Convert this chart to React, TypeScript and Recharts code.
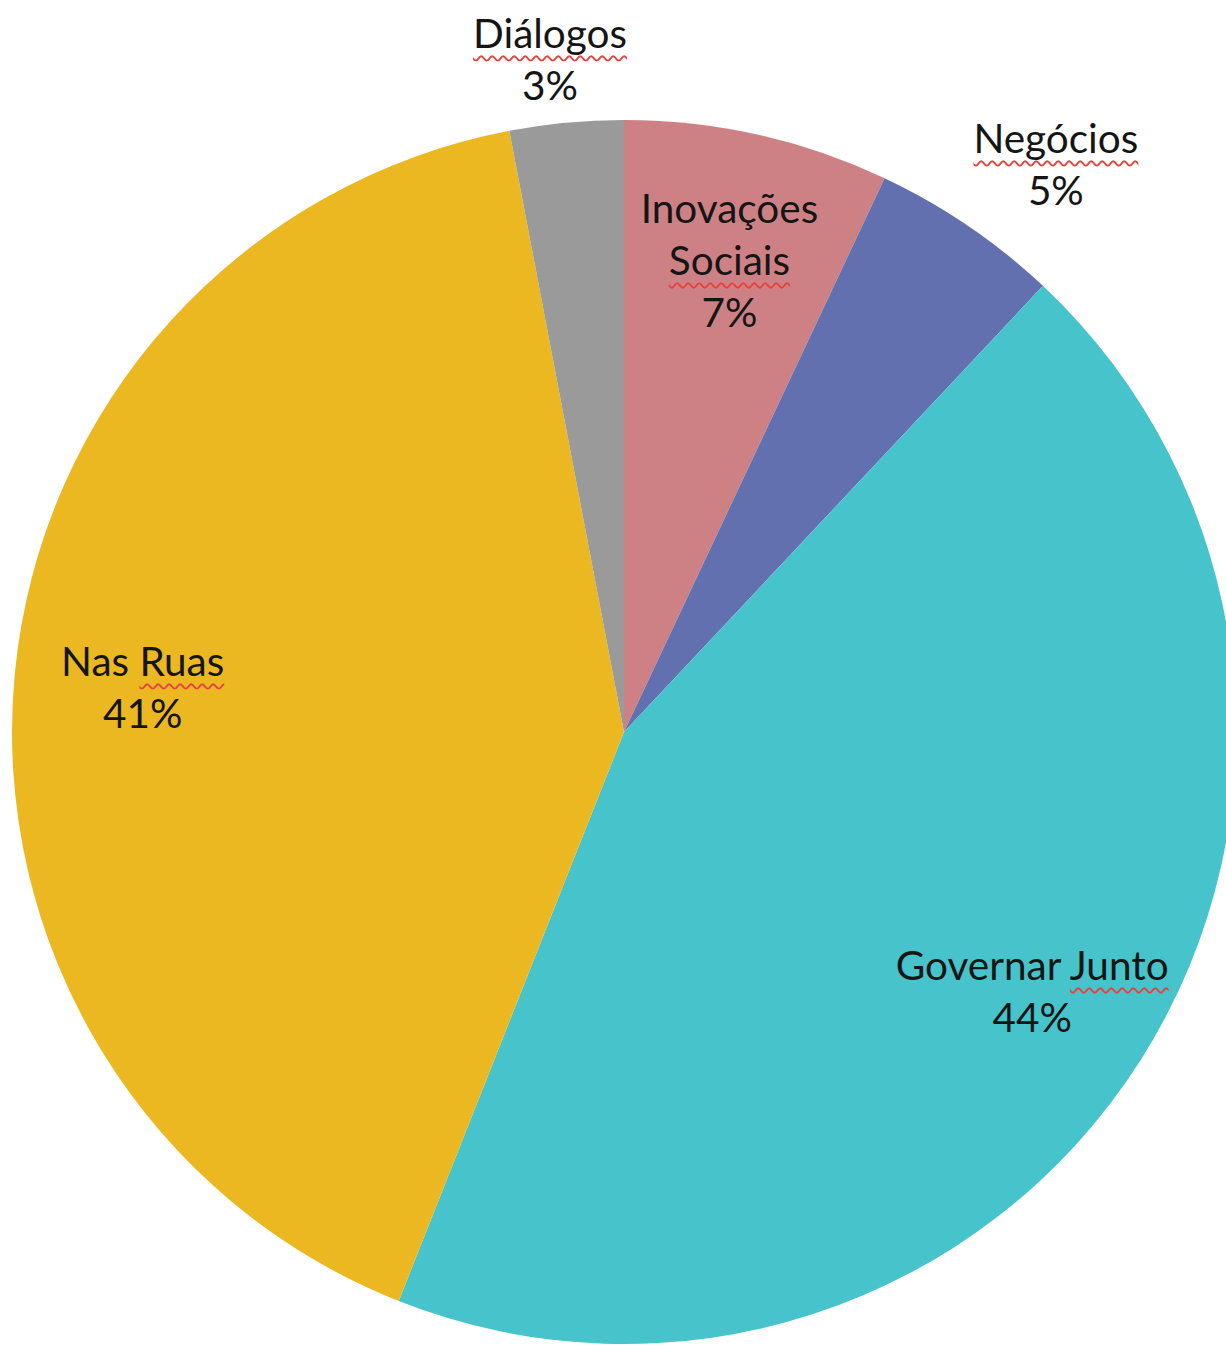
import React from "react";
import { PieChart, Pie, Cell } from "recharts";

const categories = ["Inovações Sociais", "Negócios", "Governar Junto", "Nas Ruas", "Diálogos"];
const values = [7, 5, 44, 41, 3];
const colors = ["#CE8185", "#6370AF", "#47C3CB", "#EBB822", "#9A9A9A"];
// words marked by the spell checker in the original
const flagged = ["Diálogos", "Negócios", "Sociais", "Ruas", "Junto"];

const data = categories.map((name, i) => ({ name, value: values[i] }));
const RAD = Math.PI / 180;
const FONT = "Lato, 'Open Sans', sans-serif";
const FS = 40.5;
const LH = 52;

function wrapName(name: string) {
  return name === "Inovações Sociais" ? name.split(" ") : [name];
}

function renderLabel(props: any) {
  const { cx, cy, midAngle, outerRadius, percent, name } = props;
  const lines = [...wrapName(name), `${Math.round(percent * 100)}%`];
  const h = lines.length * LH;
  const textW = Math.max(...lines.map((l) => l.length)) * FS * 0.5;
  const cos = Math.cos(-midAngle * RAD);
  const sin = Math.sin(-midAngle * RAD);
  let x: number;
  let y: number;
  if (percent < 0.06) {
    // small slices: box sits just outside the rim
    const r = outerRadius * 1.02;
    const clamp = (v: number) => Math.max(-1, Math.min(1, v));
    x = cx + r * cos + (textW / 2) * clamp(cos * 2);
    y = cy + r * sin + (h / 2) * clamp(sin * 2);
  } else {
    const r = outerRadius * 0.79;
    x = cx + r * cos;
    y = cy + r * sin;
  }
  const w = 360;
  return (
    <foreignObject x={x - w / 2} y={y - h / 2} width={w} height={h + 10} style={{ overflow: "visible" }}>
      <div
        style={{
          fontFamily: FONT,
          fontSize: FS,
          lineHeight: `${LH}px`,
          textAlign: "center",
          color: "#151515",
          whiteSpace: "nowrap",
        }}
      >
        {lines.map((line, i) => {
          const words = line.split(" ");
          return (
            <div key={i}>
              {words.map((wd, j) => (
                <span key={j}>
                  <span
                    style={
                      flagged.includes(wd)
                        ? {
                            textDecoration: "underline wavy #E8413C",
                            textDecorationThickness: "2px",
                            textUnderlineOffset: "7px",
                            textDecorationSkipInk: "none",
                          }
                        : undefined
                    }
                  >
                    {wd}
                  </span>
                  {j < words.length - 1 ? " " : ""}
                </span>
              ))}
            </div>
          );
        })}
      </div>
    </foreignObject>
  );
}

export default function App() {
  return (
    <div style={{ position: "absolute", left: 0, top: 0, background: "#fff" }}>
      <PieChart width={1226} height={1349}>
        <Pie
          data={data}
          dataKey="value"
          nameKey="name"
          cx={619}
          cy={727}
          outerRadius={612}
          startAngle={90}
          endAngle={-270}
          stroke="none"
          label={renderLabel}
          labelLine={false}
          isAnimationActive={false}
        >
          {data.map((_, i) => (
            <Cell key={i} fill={colors[i]} />
          ))}
        </Pie>
      </PieChart>
    </div>
  );
}
